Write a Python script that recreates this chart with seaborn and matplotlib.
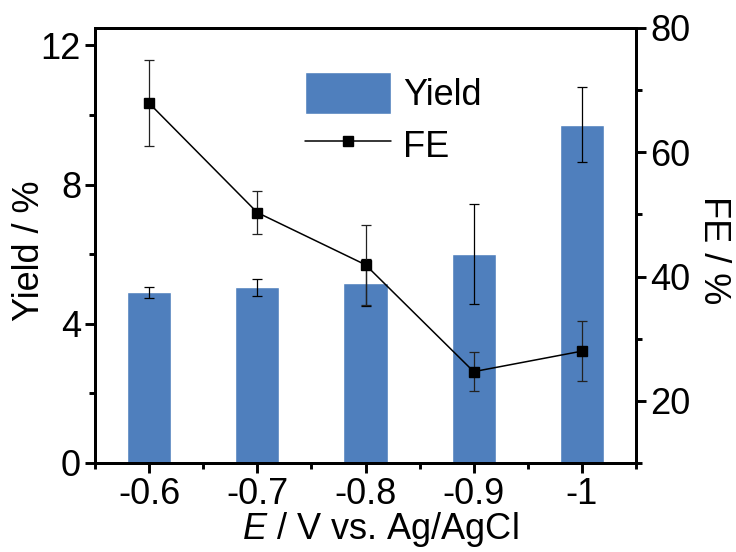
import matplotlib
matplotlib.use("Agg")
import matplotlib.pyplot as plt
from matplotlib.ticker import MultipleLocator
import seaborn as sns
import pandas as pd

# Electrolysis potentials and measured performance
potentials = ["-0.6", "-0.7", "-0.8", "-0.9", "-1"]
yield_pct = [4.90, 5.05, 5.18, 6.00, 9.72]
yield_err = [0.17, 0.25, 0.68, 1.43, 1.08]
fe_pct = [67.9, 50.3, 41.9, 24.7, 28.0]
fe_err = [6.9, 3.4, 6.4, 3.1, 4.8]

sns.set_theme(style="ticks")
plt.rcParams["font.family"] = ["Liberation Sans", "DejaVu Sans"]
plt.rcParams["mathtext.fontset"] = "custom"
plt.rcParams["mathtext.it"] = "Liberation Sans:italic"
plt.rcParams["mathtext.rm"] = "Liberation Sans"
plt.rcParams["text.color"] = "black"
plt.rcParams["axes.labelcolor"] = "black"

FS = 26
bar_color = "#4F7FBD"
df = pd.DataFrame({"E": potentials, "Yield": yield_pct})

fig = plt.figure(figsize=(7.36, 5.52), dpi=100)
ax = fig.add_axes([95 / 736, 1 - 463 / 552, 541 / 736, 435 / 552])

sns.barplot(data=df, x="E", y="Yield", color=bar_color, width=0.41,
            saturation=1, errorbar=None, ax=ax)
xpos = list(range(len(potentials)))
ax.errorbar(xpos, yield_pct, yerr=yield_err, fmt="none", ecolor="black",
            elinewidth=0.9, capsize=3.5, capthick=0.9, zorder=3)

ax.set_xlim(-0.5, 4.5)
ax.set_ylim(0, 12.5)
ax.yaxis.set_major_locator(MultipleLocator(4))
ax.yaxis.set_minor_locator(MultipleLocator(2))
ax.xaxis.set_minor_locator(MultipleLocator(0.5))

ax2 = ax.twinx()
fe_err_container = ax2.errorbar(xpos, fe_pct, yerr=fe_err, color="black",
                                lw=1.1, marker="s", markersize=6.5,
                                elinewidth=0.9, capsize=3.5, capthick=0.9,
                                ecolor="#222222")
fe_line = fe_err_container[0]
ax2.set_ylim(10, 80)
ax2.yaxis.set_major_locator(MultipleLocator(20))
ax2.yaxis.set_minor_locator(MultipleLocator(10))

for a in (ax, ax2):
    for s in a.spines.values():
        s.set_linewidth(2.1)
        s.set_color("black")
    a.tick_params(which="major", direction="out", length=7, width=2.1,
                  labelsize=FS, colors="black", pad=3)
    a.tick_params(which="minor", direction="out", length=4.3, width=2.1,
                  colors="black")

ax.set_xlabel("$E$ / V vs. Ag/AgCl", fontsize=FS, color="black")
ax.xaxis.set_label_coords(0.527, -0.108)
ax.set_ylabel("Yield / %", fontsize=FS, color="black")
ax.yaxis.set_label_coords(-0.089, 0.487)
ax2.set_ylabel("FE / %", fontsize=FS, rotation=270, va="bottom", color="black")
ax2.yaxis.set_label_coords(1.11, 0.49)

leg = ax2.legend([ax.patches[0], fe_line], ["Yield", "FE"], loc="upper left",
                 bbox_to_anchor=(305 / 736, 1 - 72 / 552),
                 bbox_transform=fig.transFigure, borderpad=0, borderaxespad=0,
                 frameon=False, fontsize=FS, handlelength=2.37,
                 handleheight=1.4, handletextpad=0.35, labelspacing=0.3)
for t in leg.get_texts():
    t.set_color("black")

fig.savefig("out.png", dpi=100)
